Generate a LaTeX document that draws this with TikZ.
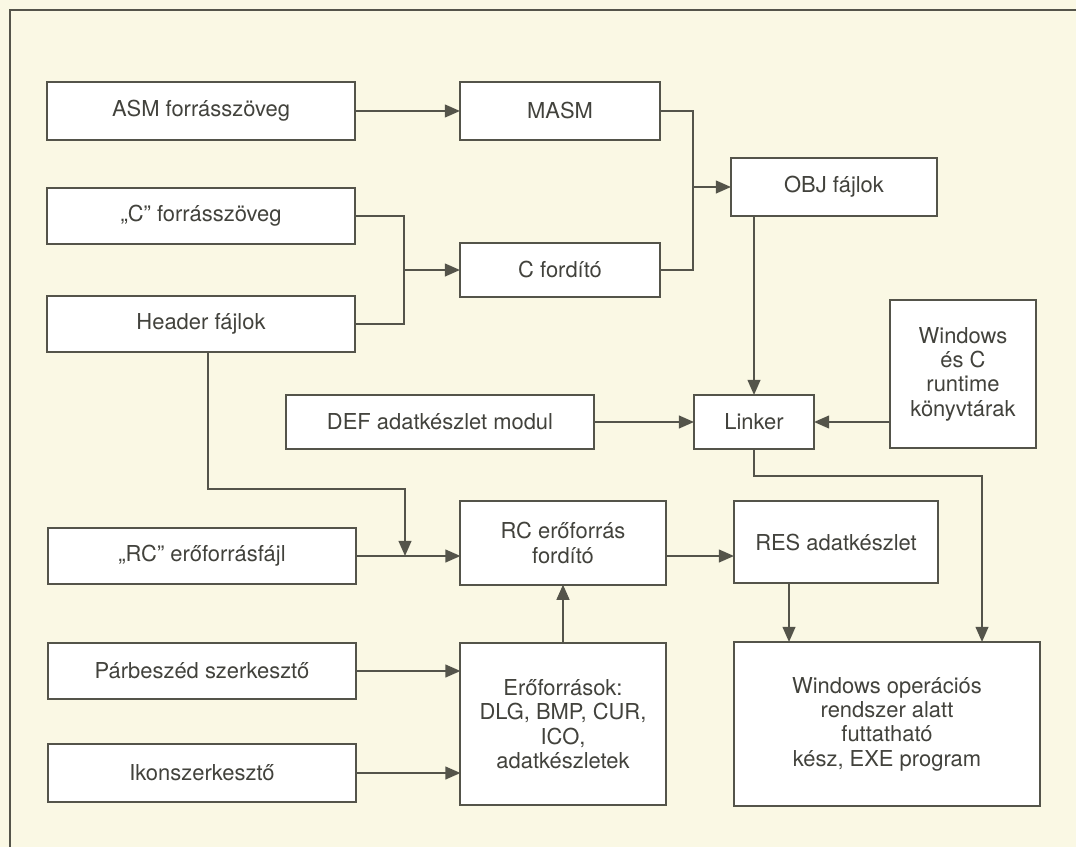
\documentclass[tikz,border=0pt]{standalone}
\usepackage{fontspec}
\setmainfont{TeX Gyre Heros}
\usepackage{tikz}
\usetikzlibrary{arrows.meta}

\definecolor{papir}{RGB}{250,248,228}
\definecolor{vonalszin}{RGB}{84,84,74}
\definecolor{betu}{RGB}{66,66,60}

\tikzset{
  doboz/.style={draw=vonalszin, fill=white, line width=1.4pt, inner sep=0pt, outer sep=0pt,
    align=center, text=betu, font=\fontsize{15.6}{17.3}\selectfont},
  vonal/.style={draw=vonalszin, line width=1.4pt},
  nyil/.style={vonal, -{Triangle[length=3.8mm,width=3.2mm]}}
}

\begin{document}
\begin{tikzpicture}[x=0.025cm, y=-0.025cm]
        \fill[papir] (0,0) rectangle (1076,847);
        \useasboundingbox (0,0) rectangle (1076,847);
        \draw[vonalszin, line width=0.8pt] (1076,10) -- (10,10) -- (10,847);

        \node [doboz, minimum width=7.7cm, minimum height=1.45cm] (asm) at (201,111) {ASM forrásszöveg};
        \node [doboz, minimum width=5cm, minimum height=1.45cm] (masm) at (560,111) {MASM};
        \node [doboz, minimum width=7.7cm, minimum height=1.4cm] (csrc) at (201,216) {„C” forrásszöveg};
        \node [doboz, minimum width=5cm, minimum height=1.35cm] (cc) at (560,270) {C fordító};
        \node [doboz, minimum width=7.7cm, minimum height=1.4cm] (hdr) at (201,324) {Header fájlok};
        \node [doboz, minimum width=5.15cm, minimum height=1.45cm] (obj) at (834,187) {OBJ fájlok};
        \node [doboz, minimum width=3.65cm, minimum height=3.7cm] (winlib) at (963,374) {Windows\\és C\\runtime\\könyvtárak};
        \node [doboz, minimum width=7.7cm, minimum height=1.35cm] (def) at (440,422) {DEF adatkészlet modul};
        \node [doboz, minimum width=3cm, minimum height=1.35cm] (linker) at (754,422) {Linker};
        \node [doboz, minimum width=7.7cm, minimum height=1.4cm] (rcf) at (202,556) {„RC” erőforrásfájl};
        \node [doboz, minimum width=5.125cm, minimum height=2.08cm] (rcc) at (563,543) {RC erőforrás\\fordító};
        \node [doboz, minimum width=5.1cm, minimum height=2.04cm] (res) at (836,542) {RES adatkészlet};
        \node [doboz, minimum width=7.7cm, minimum height=1.4cm] (dlg) at (202,671) {Párbeszéd szerkesztő};
        \node [doboz, minimum width=7.7cm, minimum height=1.45cm] (ico) at (202,773) {Ikonszerkesztő};
        \node [doboz, minimum width=5.125cm, minimum height=4.05cm] (rsrc) at (563,724) {Erőforrások:\\DLG, BMP, CUR,\\ICO,\\adatkészletek};
        \node [doboz, minimum width=7.65cm, minimum height=4.1cm] (exe) at (887,724) {Windows operációs\\rendszer alatt\\futtatható\\kész, EXE program};

        \coordinate (j1) at (693,187);
        \coordinate (j2) at (404,270);
        \coordinate (h0) at (208,489);
        \coordinate (h1) at (405,489);
        \coordinate (k1) at (982,476);
        \coordinate (r1) at (789,600);

        \draw[nyil] (asm) -- (masm);
        \draw[vonal] (masm.east) -| (j1) |- (cc.east);
        \draw[nyil] (j1) -- (obj.west);
        \draw[vonal] (csrc.east) -| (j2) |- (hdr.east);
        \draw[nyil] (j2) -- (cc.west);
        \draw[nyil] (hdr.south -| h0) -- (h0) -- (h1) -- (h1 |- rcf.east);
        \draw[nyil] (rcf.east) -- (rcf.east -| rcc.west);
        \draw[nyil] (obj.south -| linker.north) -- (linker.north);
        \draw[nyil] (def) -- (linker);
        \draw[nyil] (winlib.west |- linker) -- (linker.east);
        \draw[nyil] (linker.south) |- (k1) -- (k1 |- exe.north);
        \draw[nyil] (rcc.east |- rcf.east) -- (res.west |- rcf.east);
        \draw[nyil] (res.south -| r1) -- (r1 |- exe.north);
        \draw[nyil] (rsrc) -- (rcc);
        \draw[nyil] (dlg.east) -- (dlg.east -| rsrc.west);
        \draw[nyil] (ico.east) -- (ico.east -| rsrc.west);
      \end{tikzpicture}
\end{document}
